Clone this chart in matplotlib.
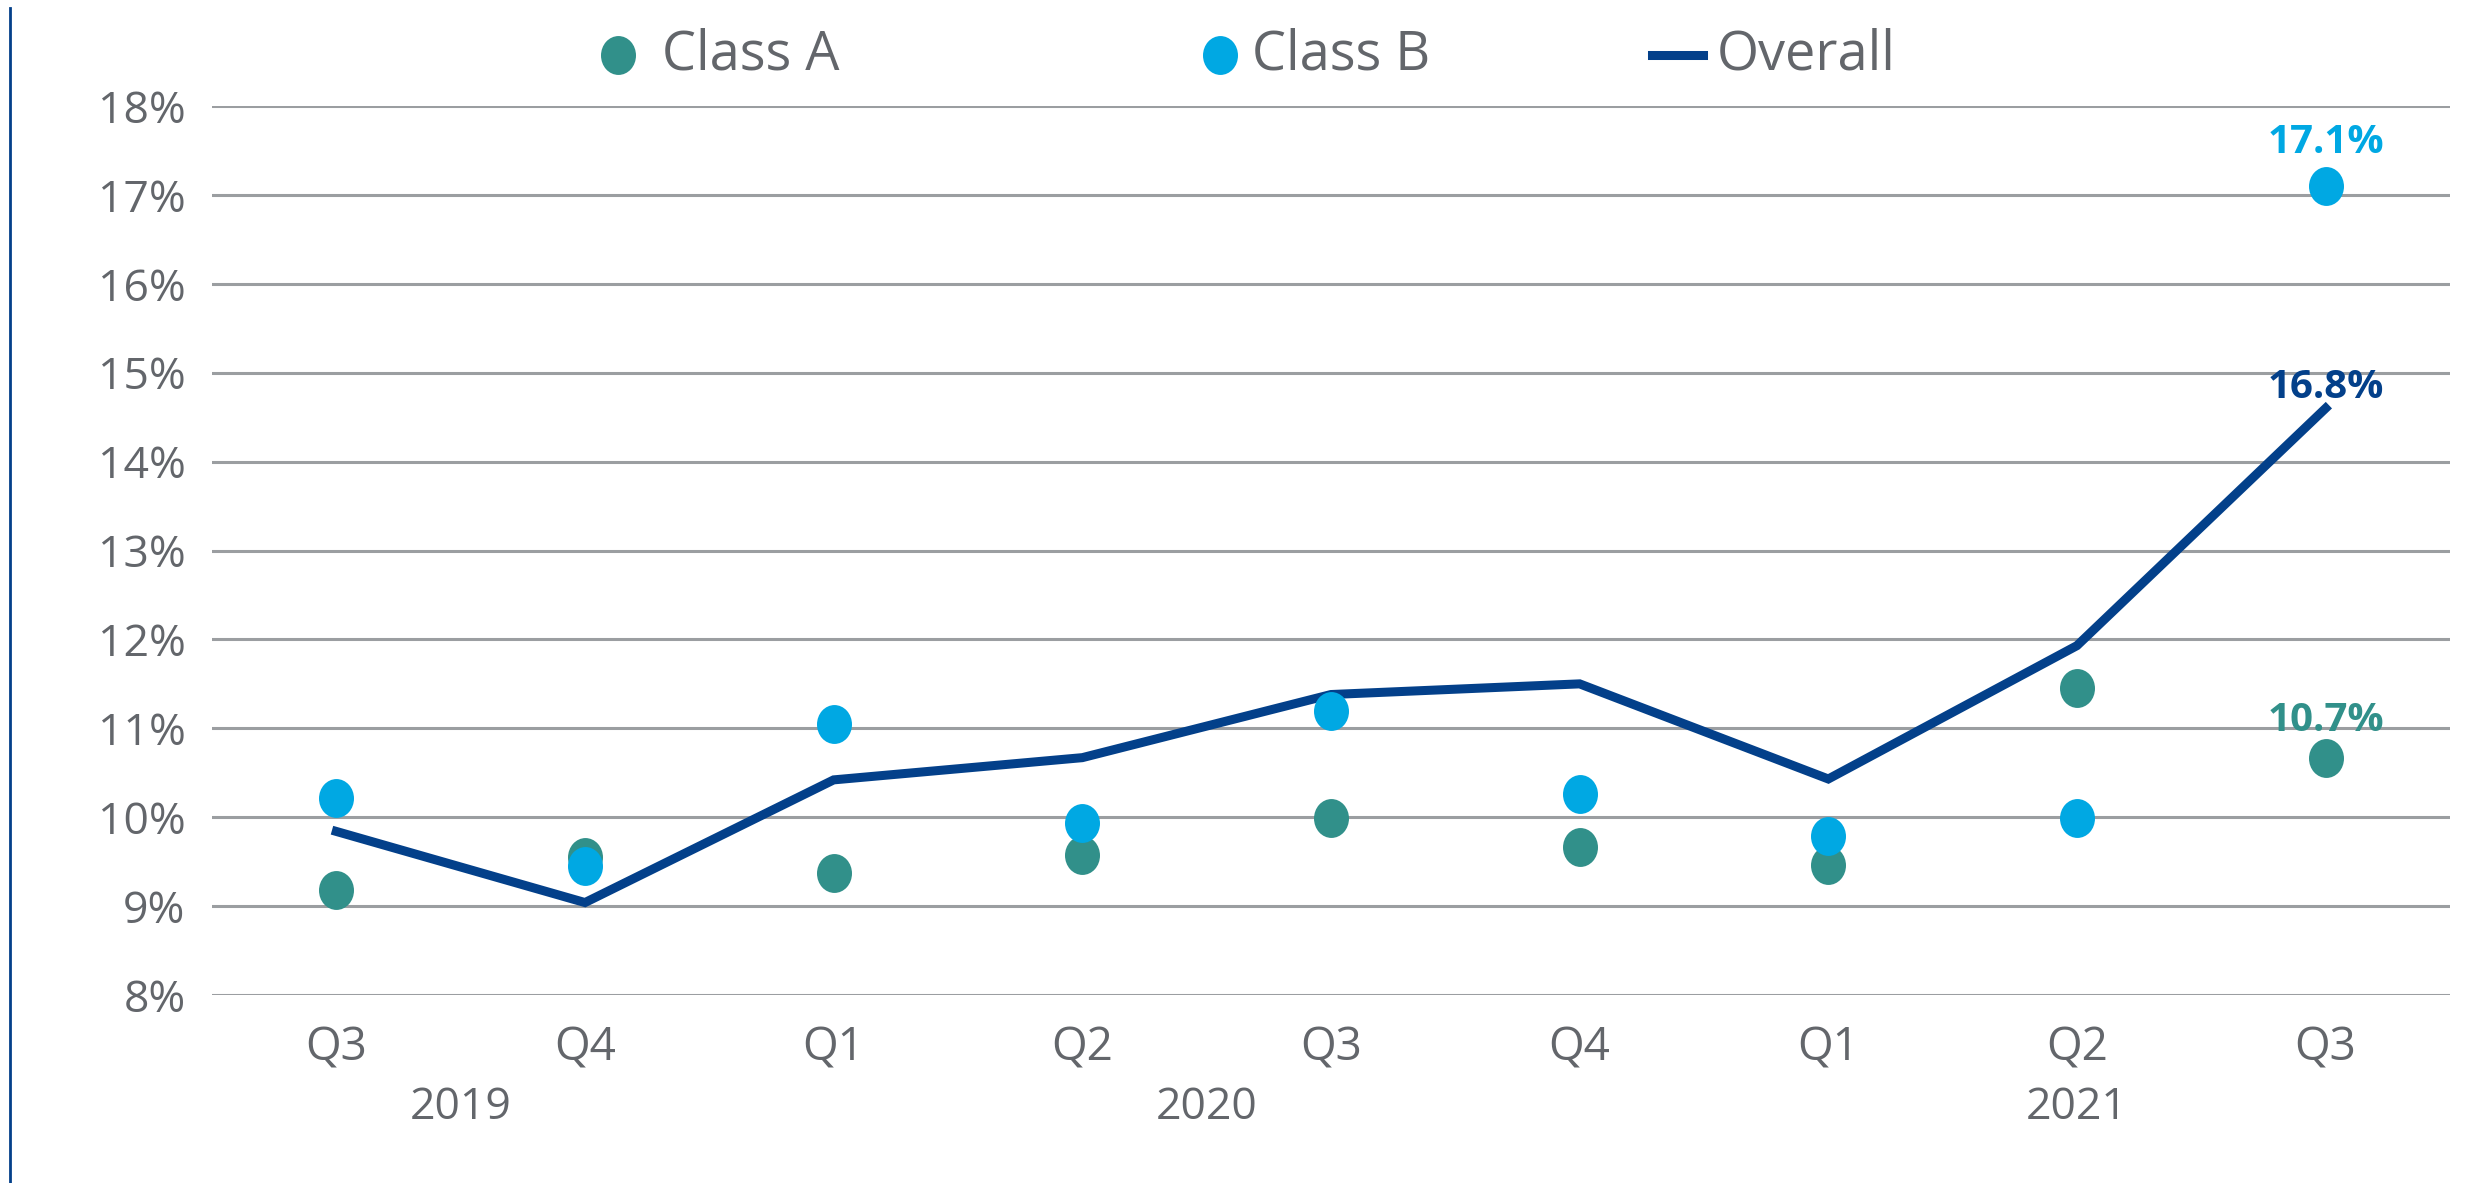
import matplotlib.pyplot as plt
import matplotlib.lines as mlines
import matplotlib.transforms as mtransforms
from matplotlib.path import Path

plt.rcParams['font.family'] = ['Open Sans', 'DejaVu Sans']

quarters = ['Q3', 'Q4', 'Q1', 'Q2', 'Q3', 'Q4', 'Q1', 'Q2', 'Q3']
years = ['2019', '2020', '2021']
year_pos = [0.5, 3.5, 7.0]
class_a = [9.18, 9.55, 9.37, 9.57, 9.99, 9.67, 9.46, 11.45, 10.67]
class_b = [10.22, 9.45, 11.05, 9.94, 11.19, 10.26, 9.79, 9.99, 17.1]
overall = [9.84, 9.04, 10.42, 10.67, 11.38, 11.5, 10.43, 11.93, 14.6]
end_labels = ['10.7%', '17.1%', '16.8%']

teal = '#31908A'
light = '#00A8E3'
navy = '#03408A'
gray_txt = '#63666B'
grid_c = '#9B9EA1'

# slightly tall ellipse marker, as in the original
circ = Path.unit_circle()
oval = Path(circ.vertices * [0.9, 1.0], circ.codes)

fig = plt.figure(figsize=(24.65, 11.83), dpi=100)
ax = fig.add_axes([0.086, 0.1589, 0.9079, 0.7515])

x = list(range(len(quarters)))
ax.plot(x, overall, color=navy, lw=6.5, zorder=2, solid_joinstyle='miter')
ax.plot(x, class_a, ls='none', marker=oval, color=teal, ms=28, mew=0, zorder=3)
ax.plot(x, class_b, ls='none', marker=oval, color=light, ms=28, mew=0, zorder=3)

ax.set_xlim(-0.5, 8.5)
ax.set_ylim(8, 18)
ax.set_yticks(range(8, 19))
ax.set_yticklabels([f'{v}%' for v in range(8, 19)])
ax.set_xticks(x)
ax.set_xticklabels(quarters)
ax.tick_params(axis='y', length=0, pad=19, labelsize=32, labelcolor=gray_txt)
ax.tick_params(axis='x', length=0, pad=22, labelsize=33, labelcolor=gray_txt)
for s in ax.spines.values():
    s.set_visible(False)
ax.grid(axis='y', color=grid_c, lw=2.2)
ax.set_axisbelow(True)

trans = mtransforms.blended_transform_factory(ax.transData, ax.transAxes)
for yr, p in zip(years, year_pos):
    ax.text(p, -0.102, yr, transform=trans, ha='center', va='top',
            fontsize=32, color=gray_txt)

# end labels
ax.annotate(end_labels[0], (8, class_a[-1]), xytext=(0, 13), textcoords='offset points',
            ha='center', va='bottom', fontsize=29, fontweight='bold', color=teal)
ax.annotate(end_labels[1], (8, class_b[-1]), xytext=(0, 17.5), textcoords='offset points',
            ha='center', va='bottom', fontsize=29, fontweight='bold', color=light)
ax.annotate(end_labels[2], (8, overall[-1]), xytext=(0, 1), textcoords='offset points',
            ha='center', va='bottom', fontsize=29, fontweight='bold', color=navy)

# legend
ly = 1 - 55 / 1183
fig.add_artist(mlines.Line2D([618 / 2465], [ly], marker=oval, ms=28, mew=0, color=teal,
                             transform=fig.transFigure))
fig.text(662 / 2465, ly, 'Class A', fontsize=39, color=gray_txt, va='center', ha='left')
fig.add_artist(mlines.Line2D([1220 / 2465], [ly], marker=oval, ms=28, mew=0, color=light,
                             transform=fig.transFigure))
fig.text(1252 / 2465, ly, 'Class B', fontsize=39, color=gray_txt, va='center', ha='left')
fig.add_artist(mlines.Line2D([1652 / 2465, 1703 / 2465], [ly, ly], lw=6.5, color=navy,
                             transform=fig.transFigure))
fig.text(1717 / 2465, ly, 'Overall', fontsize=39, color=gray_txt, va='center', ha='left')

# left border line
fig.add_artist(mlines.Line2D([10 / 2465, 10 / 2465], [0, 1 - 8 / 1183], lw=2, color=navy,
                             transform=fig.transFigure))

fig.savefig('out.png', dpi=100)
